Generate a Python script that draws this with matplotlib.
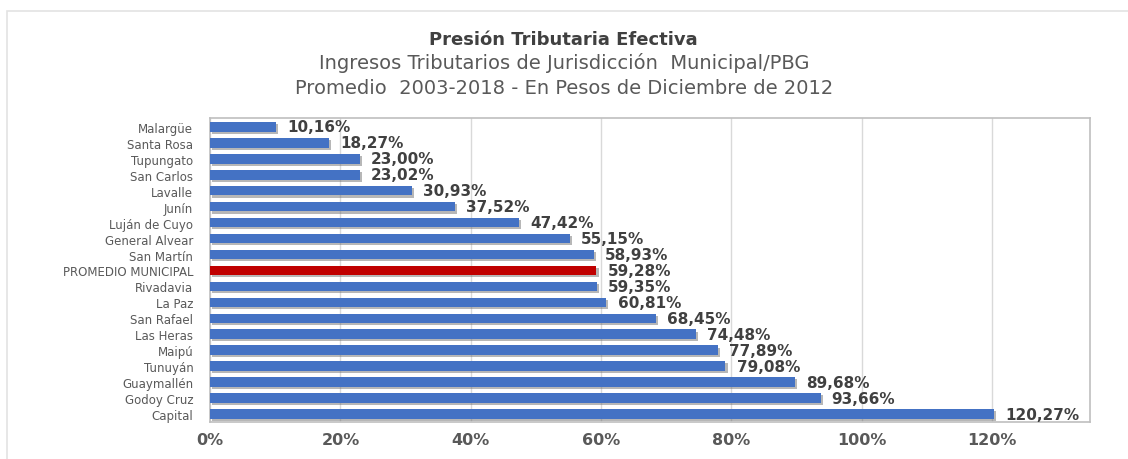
import matplotlib.pyplot as plt
import matplotlib.patheffects as pe
from matplotlib.patches import Rectangle

plt.rcParams["font.family"] = ["DejaVu Sans"]

municipios = [
    "Malargüe", "Santa Rosa", "Tupungato", "San Carlos", "Lavalle", "Junín",
    "Luján de Cuyo", "General Alvear", "San Martín", "PROMEDIO MUNICIPAL",
    "Rivadavia", "La Paz", "San Rafael", "Las Heras", "Maipú", "Tunuyán",
    "Guaymallén", "Godoy Cruz", "Capital",
]
presion = [
    10.16, 18.27, 23.00, 23.02, 30.93, 37.52, 47.42, 55.15, 58.93, 59.28,
    59.35, 60.81, 68.45, 74.48, 77.89, 79.08, 89.68, 93.66, 120.27,
]
x_ticks = [0, 20, 40, 60, 80, 100, 120]
x_tick_labels = ["0%", "20%", "40%", "60%", "80%", "100%", "120%"]

colors = ["#C00000" if m == "PROMEDIO MUNICIPAL" else "#4472C4" for m in municipios]

fig = plt.figure(figsize=(11.28, 4.6), dpi=100, facecolor="white")
ax = fig.add_axes([0.1862, 0.0804, 0.7801, 0.661])

# outer chart frame
fig.patches.append(Rectangle((0.0062, -0.05), 1.1, 1.024,
                             transform=fig.transFigure, fill=False,
                             edgecolor="#e3e3e3", linewidth=1.2))

y_pos = range(len(municipios))
bars = ax.barh(list(y_pos), presion, height=0.6, color=colors, zorder=3)
for bar in bars:
    bar.set_path_effects([
        pe.SimplePatchShadow(offset=(1.5, -1.5), shadow_rgbFace="#707070", alpha=0.5),
        pe.Normal(),
    ])

ax.set_xlim(0, 135)
ax.set_ylim(18.5, -0.56)
ax.set_xticks(x_ticks)
ax.set_xticklabels(x_tick_labels, fontsize=11.5, color="#595959", fontweight="bold")
ax.set_yticks(list(y_pos))
ax.set_yticklabels(municipios, fontsize=8.5, color="#595959")
ax.tick_params(length=0)
ax.tick_params(axis="y", pad=12)
ax.tick_params(axis="x", pad=7)
ax.grid(axis="x", color="#d9d9d9", linewidth=1, zorder=0)
for spine in ax.spines.values():
    spine.set_color("#bfbfbf")
    spine.set_linewidth(1.2)

for bar, v in zip(bars, presion):
    ax.annotate(
        f"{v:.2f}%".replace(".", ","),
        xy=(bar.get_width(), bar.get_y() + bar.get_height() / 2),
        xytext=(8, 0),
        textcoords="offset points",
        ha="left",
        va="center",
        fontsize=11,
        fontweight="bold",
        color="#404040",
    )

fig.text(0.4996, 0.913, "Presión Tributaria Efectiva", ha="center", va="center",
         fontsize=13, fontweight="bold", color="#404040")
fig.text(0.5, 0.862, "Ingresos Tributarios de Jurisdicción  Municipal/PBG",
         ha="center", va="center", fontsize=14, color="#595959")
fig.text(0.5, 0.808, "Promedio  2003-2018 - En Pesos de Diciembre de 2012",
         ha="center", va="center", fontsize=14, color="#595959")

plt.savefig("out.png", dpi=100, facecolor="white")
